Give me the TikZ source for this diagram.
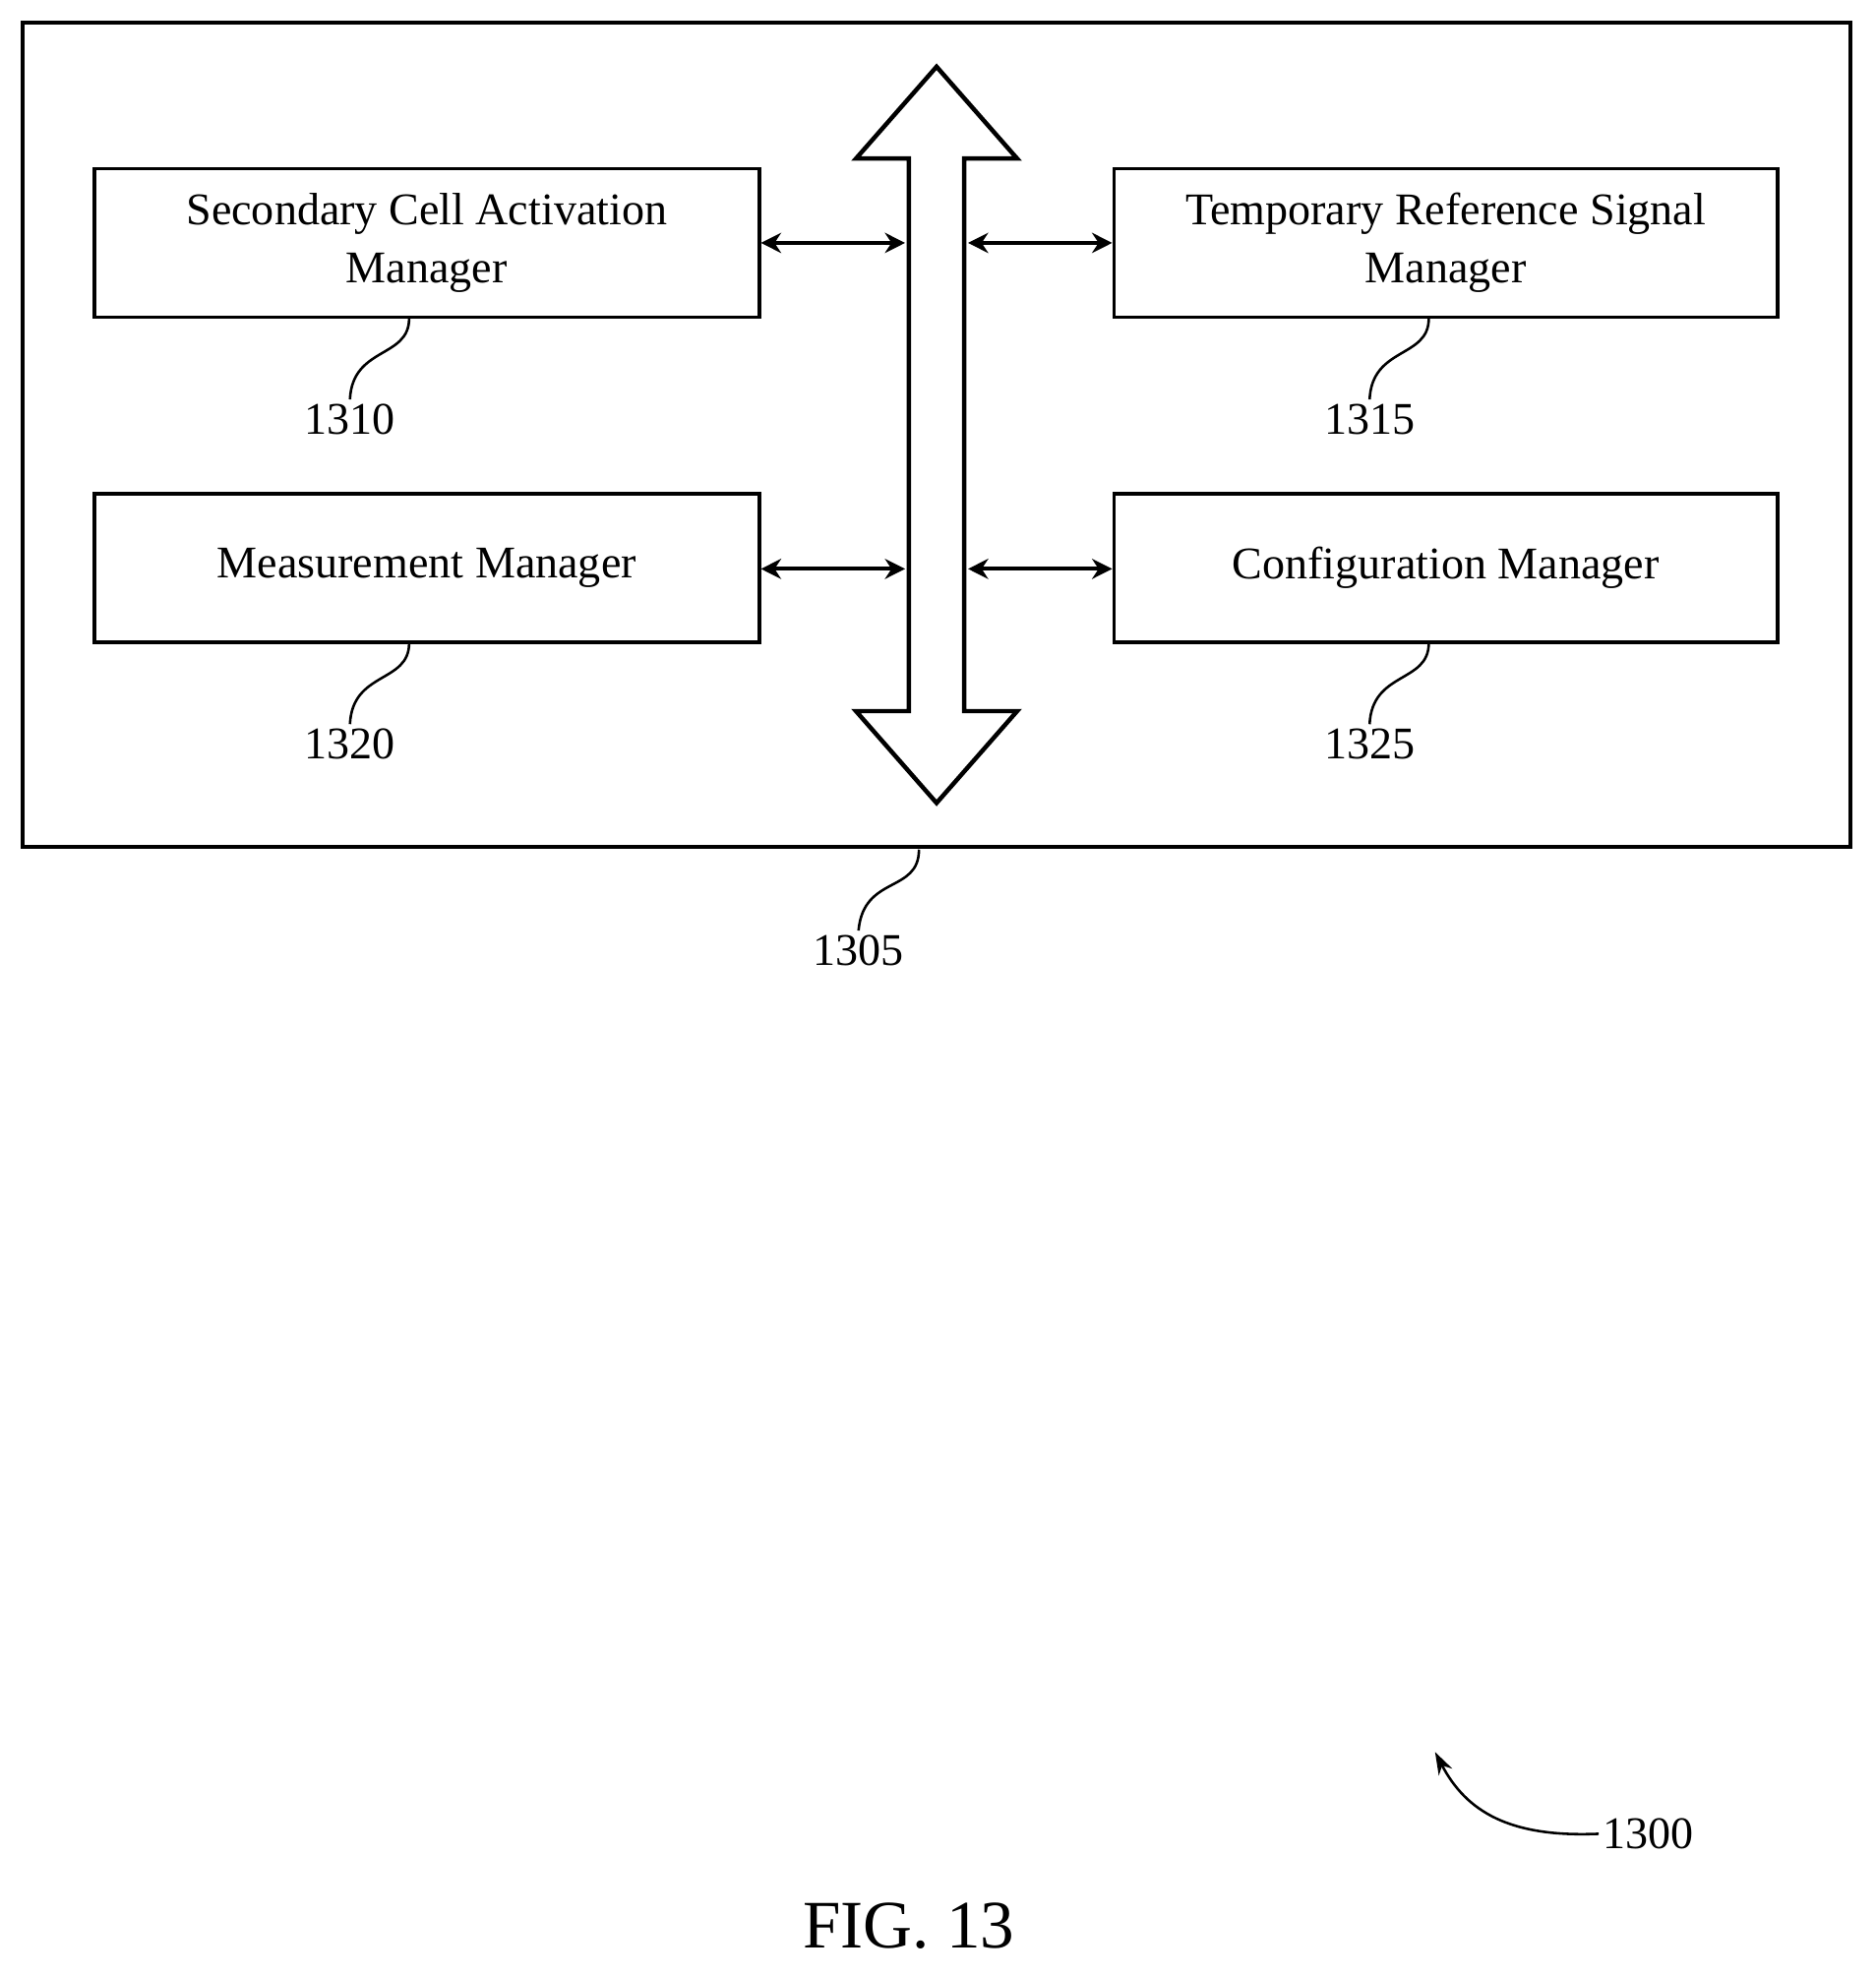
\documentclass[tikz,border=0pt]{standalone}
\usepackage{fontspec}
\setmainfont{Liberation Serif}
\usetikzlibrary{arrows.meta}
\begin{document}
\begin{tikzpicture}[x=1pt,y=-1pt,
  box/.style={draw,line width=3pt,inner sep=0pt},
  lbl/.style={font=\fontsize{36}{46}\selectfont,align=center},
  num/.style={font=\fontsize{36}{40}\selectfont},
  lead/.style={line width=2pt},
  dbl/.style={line width=3pt,{Stealth[length=16pt,width=16pt]}-{Stealth[length=16pt,width=16pt]}}]
\useasboundingbox (0,0) rectangle (1490,1570);
\draw[line width=3.5pt] (18,18) rectangle (1470,673);
\node[box,minimum width=528pt,minimum height=118pt] (b1) at (339,193) {};
\node[box,minimum width=527pt,minimum height=118pt] (b2) at (1148.5,193) {};
\node[box,minimum width=528pt,minimum height=118pt] (b3) at (339,451) {};
\node[box,minimum width=527pt,minimum height=118pt] (b4) at (1148.5,451) {};
\node[lbl] at (b1) {Secondary Cell Activation\\Manager};
\node[lbl] at (b2) {Temporary Reference Signal\\Manager};
\node[lbl] at (b3) {Measurement Manager};
\node[lbl] at (b4) {Configuration Manager};
\draw[line width=3.5pt,line join=miter] (744,53) -- (808,126) -- (766,126) -- (766,565) -- (808,565) -- (744,638) -- (680,565) -- (722,565) -- (722,126) -- (680,126) -- cycle;
\coordinate (bl1) at (719,193); \coordinate (br1) at (769,193);
\coordinate (bl2) at (719,452); \coordinate (br2) at (769,452);
\draw[dbl] (b1.east) -- (bl1);
\draw[dbl] (br1) -- (b2.west);
\draw[dbl] (b3.east |- bl2) -- (bl2);
\draw[dbl] (br2) -- (b4.west |- br2);
\node[num] (n1310) at (278,333) {1310};
\node[num] (n1315) at (1088,333) {1315};
\node[num] (n1320) at (278,591) {1320};
\node[num] (n1325) at (1088,591) {1325};
\node[num] (n1305) at (682,755) {1305};
\draw[lead] (325,253) .. controls (325,285) and (280,275) .. (n1310.north);
\draw[lead] (1135,253) .. controls (1135,285) and (1090,275) .. (n1315.north);
\draw[lead] (325,511) .. controls (325,543) and (280,533) .. (n1320.north);
\draw[lead] (1135,511) .. controls (1135,543) and (1090,533) .. (n1325.north);
\draw[lead] (730,675) .. controls (730,710) and (686,695) .. (n1305.north);
\node[num,anchor=west] (n1300) at (1270,1457) {1300};
\draw[lead,-{Stealth[length=18pt,width=12pt]}] (n1300.west) .. controls (1200,1460) and (1165,1440) .. (1140,1392);
\node[font=\fontsize{54}{60}\selectfont] (fig) at (722,1530) {FIG. 13};
\end{tikzpicture}
\end{document}
